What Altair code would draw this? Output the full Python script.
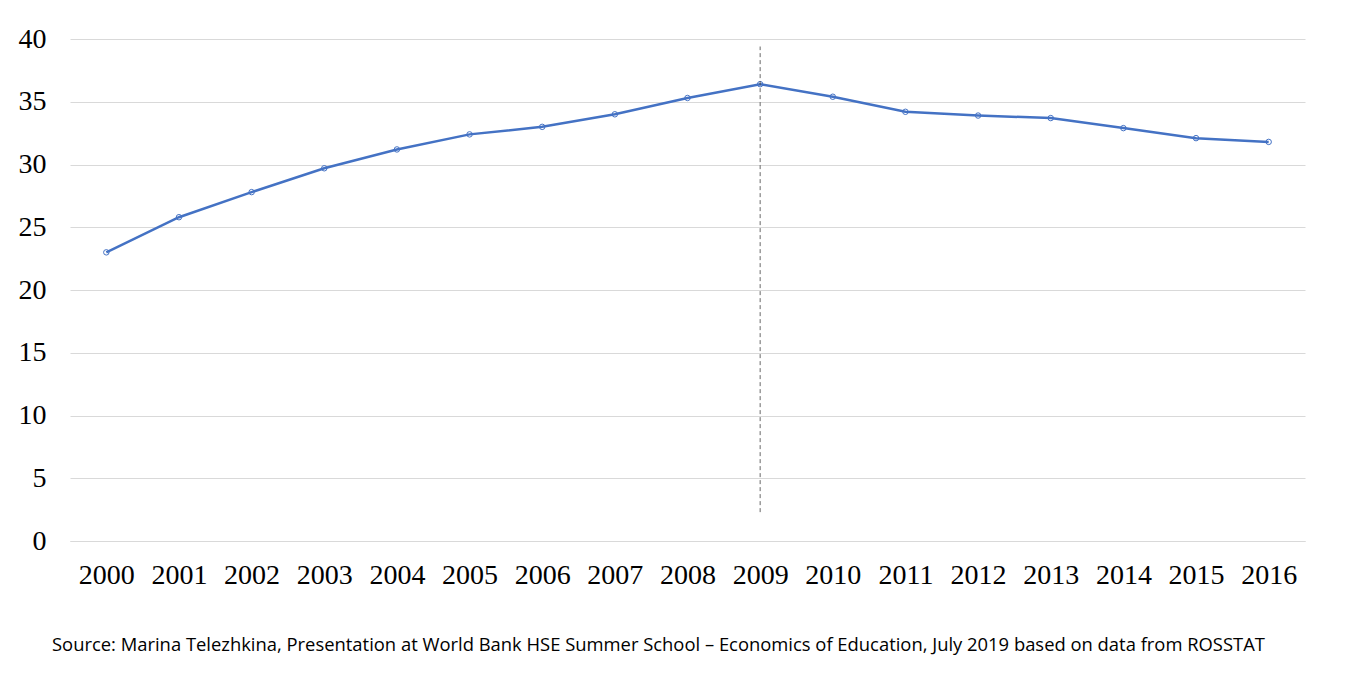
import altair as alt
import pandas as pd

years = [str(y) for y in range(2000, 2017)]
values = [23.0, 25.8, 27.8, 29.7, 31.2, 32.4, 33.0, 34.0, 35.3, 36.4,
          35.4, 34.2, 33.9, 33.7, 32.9, 32.1, 31.8]
marker_year = "2009"
marker_range = [2.3, 39.4]
source = ("Source: Marina Telezhkina, Presentation at World Bank HSE Summer School "
          "\u2013 Economics of Education, July 2019 based on data from ROSSTAT")

df = pd.DataFrame({"year": years, "value": values})
x = alt.X("year:O", title=None,
          scale=alt.Scale(type="point", padding=0.5),
          axis=alt.Axis(labelAngle=0, labelFont="Liberation Serif", labelFontSize=28,
                        labelColor="black", labelPadding=20, ticks=False,
                        domainColor="#d9d9d9", grid=False))
y = alt.Y("value:Q", title=None,
          scale=alt.Scale(domain=[0, 40]),
          axis=alt.Axis(values=list(range(0, 41, 5)), labelFont="Liberation Serif",
                        labelFontSize=28, labelColor="black", labelPadding=24,
                        ticks=False, domain=False, gridColor="#d9d9d9"))

line = alt.Chart(df).mark_line(color="#4472c4", strokeWidth=2.5,
                               point=alt.OverlayMarkDef(filled=False, color="#4472c4",
                                                         size=30, strokeWidth=1)).encode(x=x, y=y)

rule = alt.Chart(pd.DataFrame({"year": [marker_year], "lo": [marker_range[0]],
                               "hi": [marker_range[1]]})).mark_rule(
    color="#404040", strokeDash=[4, 3], strokeWidth=0.8).encode(
    x="year:O", y="lo:Q", y2="hi:Q")

text = alt.Chart(pd.DataFrame({"t": [source]})).mark_text(
    align="left", baseline="middle", font="Open Sans", fontSize=18.4, color="black").encode(
    x=alt.value(-18), y=alt.value(606), text="t:N")

chart = (line + rule + text).properties(
    width=1235, height=502, padding={"left": 10, "top": 17, "right": 5, "bottom": 5}
).configure_view(stroke=None)

chart.save("out.html", embed_options={"renderer": "svg", "actions": False})
